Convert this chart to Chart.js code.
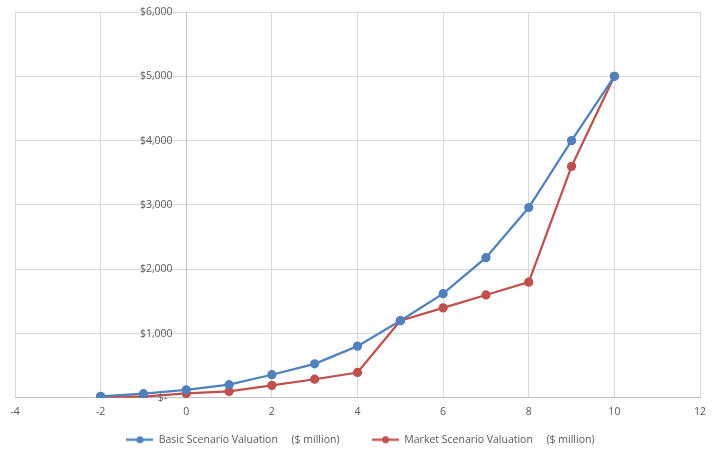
<!DOCTYPE html>
<html><head><meta charset="utf-8">
<script src="https://cdn.jsdelivr.net/npm/chart.js@4/dist/chart.umd.min.js"></script>
<style>html,body{margin:0;padding:0;background:#fff}#wrap{width:725px;height:456px}</style>
</head><body><div id="wrap"><canvas id="c" width="725" height="456"></canvas></div>
<script>
const xValues = [-2, -1, 0, 1, 2, 3, 4, 5, 6, 7, 8, 9, 10];
const basicValues = [25, 65, 125, 205, 360, 530, 805, 1200, 1620, 2180, 2960, 4000, 5000];
const marketValues = [20, 20, 70, 100, 195, 290, 395, 1200, 1400, 1600, 1800, 3600, 5000];
const seriesNames = ['Basic Scenario Valuation     ($ million)', 'Market Scenario Valuation     ($ million)'];
const xTicks = [-4, 12, 2];
const yTicks = [0, 6000, 1000];

const BLUE = '#4f81bd', RED = '#c0504d';
function legendMarker(color){
  const c = document.createElement('canvas'); c.width = 27; c.height = 9;
  const g = c.getContext('2d');
  g.strokeStyle = color; g.lineWidth = 2.25;
  g.beginPath(); g.moveTo(0, 4.5); g.lineTo(27, 4.5); g.stroke();
  g.fillStyle = color; g.beginPath(); g.arc(13.5, 4.5, 3.5, 0, Math.PI*2); g.fill();
  return c;
}
const pts = vals => xValues.map((x,i)=>({x, y: vals[i]}));
const font = {family: "'Open Sans', 'Liberation Sans', sans-serif", size: 10.5};
const shiftLegend = {
  id: 'shiftLegend',
  afterLayout(chart){ const l = chart.legend; if (l) { l.left += 3; l.right += 3; } }
};
new Chart(document.getElementById('c'), {
  type: 'scatter',
  plugins: [shiftLegend],
  data: { datasets: [
    {label: seriesNames[0], data: pts(basicValues), showLine: true, borderColor: BLUE, backgroundColor: BLUE, borderWidth: 2.25, pointRadius: 3.5, pointHoverRadius: 3.5, pointStyle: 'circle'},
    {label: seriesNames[1], data: pts(marketValues), showLine: true, borderColor: RED, backgroundColor: RED, borderWidth: 2.25, pointRadius: 3.5, pointHoverRadius: 3.5, pointStyle: 'circle'}
  ]},
  options: {
    responsive: false, animation: false,
    layout: {padding: {left: 15, right: 25, top: 12, bottom: 1}},
    plugins: {
      tooltip: {enabled: false},
      legend: {position: 'bottom', labels: {font, color: '#595959', usePointStyle: true, pointStyleWidth: 27, padding: 8,
        generateLabels: chart => chart.data.datasets.map((d,i)=>({text: d.label + (i === 0 ? '         ' : ''), fillStyle: d.borderColor, strokeStyle: d.borderColor, pointStyle: legendMarker(d.borderColor), fontColor: '#595959', datasetIndex: i, lineWidth: 0}))
      }}
    },
    scales: {
      x: {type: 'linear', min: xTicks[0], max: xTicks[1],
        ticks: {stepSize: xTicks[2], font, color: '#595959', padding: 8},
        grid: {color: '#d9d9d9', drawTicks: false},
        border: {color: '#bfbfbf'}},
      y: {type: 'linear', min: yTicks[0], max: yTicks[1], position: {x: 0},
        afterFit: s => { s.width = 0; },
        ticks: {stepSize: yTicks[2], font, color: '#595959', padding: 4,
          callback: v => v === 0 ? '$-       ' : '$' + v.toLocaleString('en-US') + '     '},
        grid: {color: '#d9d9d9', drawTicks: false},
        border: {color: '#bfbfbf'}}
    }
  }
});
</script></body></html>
